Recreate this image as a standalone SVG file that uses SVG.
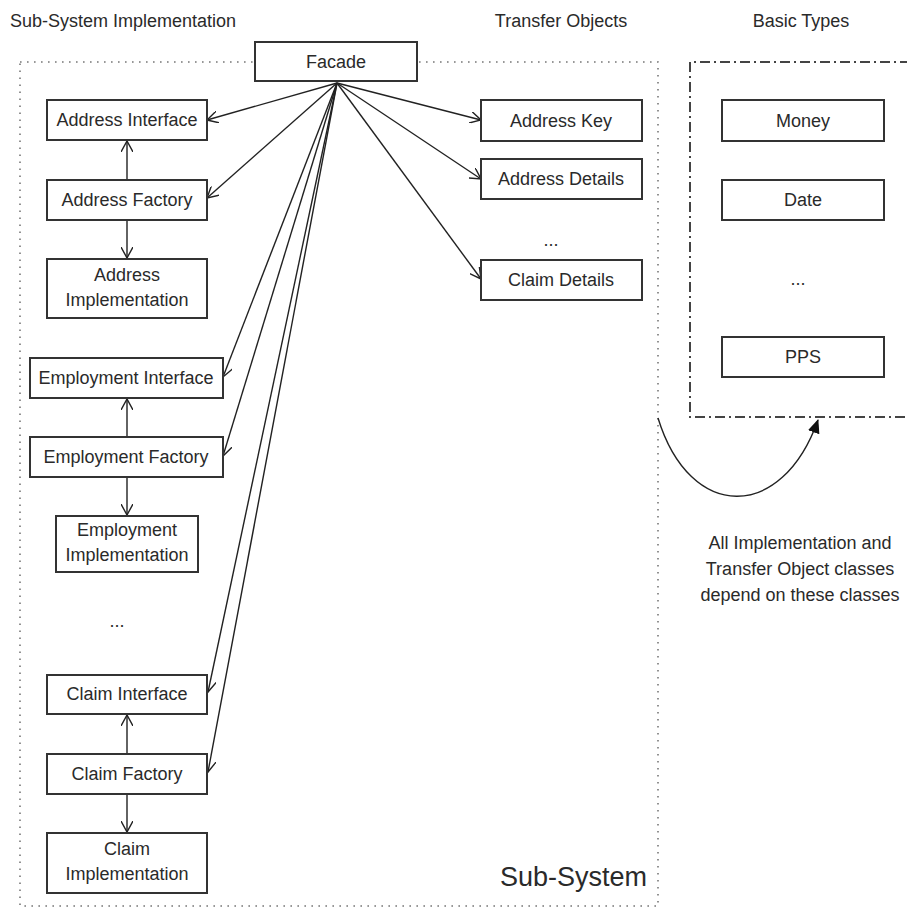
<svg xmlns="http://www.w3.org/2000/svg" width="907" height="910" viewBox="0 0 907 910">
<style>
text{font-family:"Liberation Sans",Arial,sans-serif;fill:#2a2a2a;font-size:18px}
.c{text-anchor:middle}
.box{fill:#fff;stroke:#333;stroke-width:2}
.ln{stroke:#222;stroke-width:1.4;fill:none}
</style>
<defs>
<marker id="open" viewBox="0 0 12 12" refX="11" refY="6" markerWidth="12" markerHeight="12" markerUnits="userSpaceOnUse" orient="auto">
<path d="M0,0 L11,6 L0,12" fill="none" stroke="#222" stroke-width="1.4"/>
</marker>
<marker id="solid" viewBox="0 0 14 12" refX="13" refY="6" markerWidth="14" markerHeight="12" markerUnits="userSpaceOnUse" orient="auto">
<path d="M0,0 L14,6 L0,12 Z" fill="#111"/>
</marker>
</defs>
<rect width="907" height="910" fill="#fff"/>

<g id="subsystem">
<rect x="20" y="62" width="638" height="844" fill="none" stroke="#777" stroke-width="1.6" stroke-dasharray="1.6,5.4"/>
<text x="647" y="886" font-size="27" style="font-size:27px" text-anchor="end">Sub-System</text>
</g>
<g id="basic-types">
<path d="M910,62 H690 V417 H910" fill="none" stroke="#444" stroke-width="2" stroke-dasharray="10,4,2,4"/>
</g>

<g id="titles">
<text x="10" y="27">Sub-System Implementation</text>
<text x="561" y="27" class="c">Transfer Objects</text>
<text x="801" y="27" class="c">Basic Types</text>
</g>

<g id="connectors">
<line class="ln" x1="337" y1="83" x2="207" y2="120" marker-end="url(#open)"/>
<line class="ln" x1="337" y1="83" x2="207" y2="198" marker-end="url(#open)"/>
<line class="ln" x1="337" y1="83" x2="223" y2="377" marker-end="url(#open)"/>
<line class="ln" x1="337" y1="83" x2="223" y2="456" marker-end="url(#open)"/>
<line class="ln" x1="337" y1="83" x2="208" y2="692" marker-end="url(#open)"/>
<line class="ln" x1="337" y1="83" x2="208" y2="772" marker-end="url(#open)"/>
<line class="ln" x1="337" y1="83" x2="481" y2="120" marker-end="url(#open)"/>
<line class="ln" x1="337" y1="83" x2="481" y2="179" marker-end="url(#open)"/>
<line class="ln" x1="337" y1="83" x2="481" y2="279" marker-end="url(#open)"/>
<line class="ln" x1="127" y1="180" x2="127" y2="141" marker-end="url(#open)"/>
<line class="ln" x1="127" y1="220" x2="127" y2="258" marker-end="url(#open)"/>
<line class="ln" x1="127" y1="437" x2="127" y2="399" marker-end="url(#open)"/>
<line class="ln" x1="127" y1="477" x2="127" y2="515" marker-end="url(#open)"/>
<line class="ln" x1="127" y1="754" x2="127" y2="715" marker-end="url(#open)"/>
<line class="ln" x1="127" y1="794" x2="127" y2="832" marker-end="url(#open)"/>
<path class="ln" d="M658,418 C690,522 782,522 818,420" marker-end="url(#solid)"/>
</g>

<g id="facade"><rect class="box" x="255" y="42" width="162" height="39"/><text x="336" y="68" class="c">Facade</text></g>

<g id="address-interface"><rect class="box" x="47" y="100" width="160" height="40"/><text x="127" y="126" class="c">Address Interface</text></g>
<g id="address-factory"><rect class="box" x="47" y="180" width="160" height="40"/><text x="127" y="206" class="c">Address Factory</text></g>
<g id="address-implementation"><rect class="box" x="47" y="259" width="160" height="59"/><text x="127" y="281" class="c">Address</text><text x="127" y="306" class="c">Implementation</text></g>

<g id="employment-interface"><rect class="box" x="30" y="358" width="193" height="40"/><text x="126" y="384" class="c">Employment Interface</text></g>
<g id="employment-factory"><rect class="box" x="30" y="437" width="193" height="40"/><text x="126" y="463" class="c">Employment Factory</text></g>
<g id="employment-implementation"><rect class="box" x="56" y="516" width="142" height="56"/><text x="127" y="536" class="c">Employment</text><text x="127" y="561" class="c">Implementation</text></g>
<g id="impl-ellipsis"><text x="117" y="627" class="c">...</text></g>

<g id="claim-interface"><rect class="box" x="47" y="675" width="160" height="39"/><text x="127" y="700" class="c">Claim Interface</text></g>
<g id="claim-factory"><rect class="box" x="47" y="754" width="160" height="40"/><text x="127" y="780" class="c">Claim Factory</text></g>
<g id="claim-implementation"><rect class="box" x="47" y="833" width="160" height="60"/><text x="127" y="855" class="c">Claim</text><text x="127" y="880" class="c">Implementation</text></g>

<g id="address-key"><rect class="box" x="481" y="100" width="161" height="41"/><text x="561" y="127" class="c">Address Key</text></g>
<g id="address-details"><rect class="box" x="481" y="159" width="161" height="40"/><text x="561" y="185" class="c">Address Details</text></g>
<g id="to-ellipsis"><text x="551" y="246" class="c">...</text></g>
<g id="claim-details"><rect class="box" x="481" y="260" width="161" height="40"/><text x="561" y="286" class="c">Claim Details</text></g>

<g id="money"><rect class="box" x="722" y="100" width="162" height="41"/><text x="803" y="127" class="c">Money</text></g>
<g id="date"><rect class="box" x="722" y="180" width="162" height="40"/><text x="803" y="206" class="c">Date</text></g>
<g id="bt-ellipsis"><text x="798" y="285" class="c">...</text></g>
<g id="pps"><rect class="box" x="722" y="337" width="162" height="40"/><text x="803" y="363" class="c">PPS</text></g>

<g id="note">
<text x="800" y="549" class="c">All Implementation and</text>
<text x="800" y="575" class="c">Transfer Object classes</text>
<text x="800" y="601" class="c">depend on these classes</text>
</g>
</svg>
